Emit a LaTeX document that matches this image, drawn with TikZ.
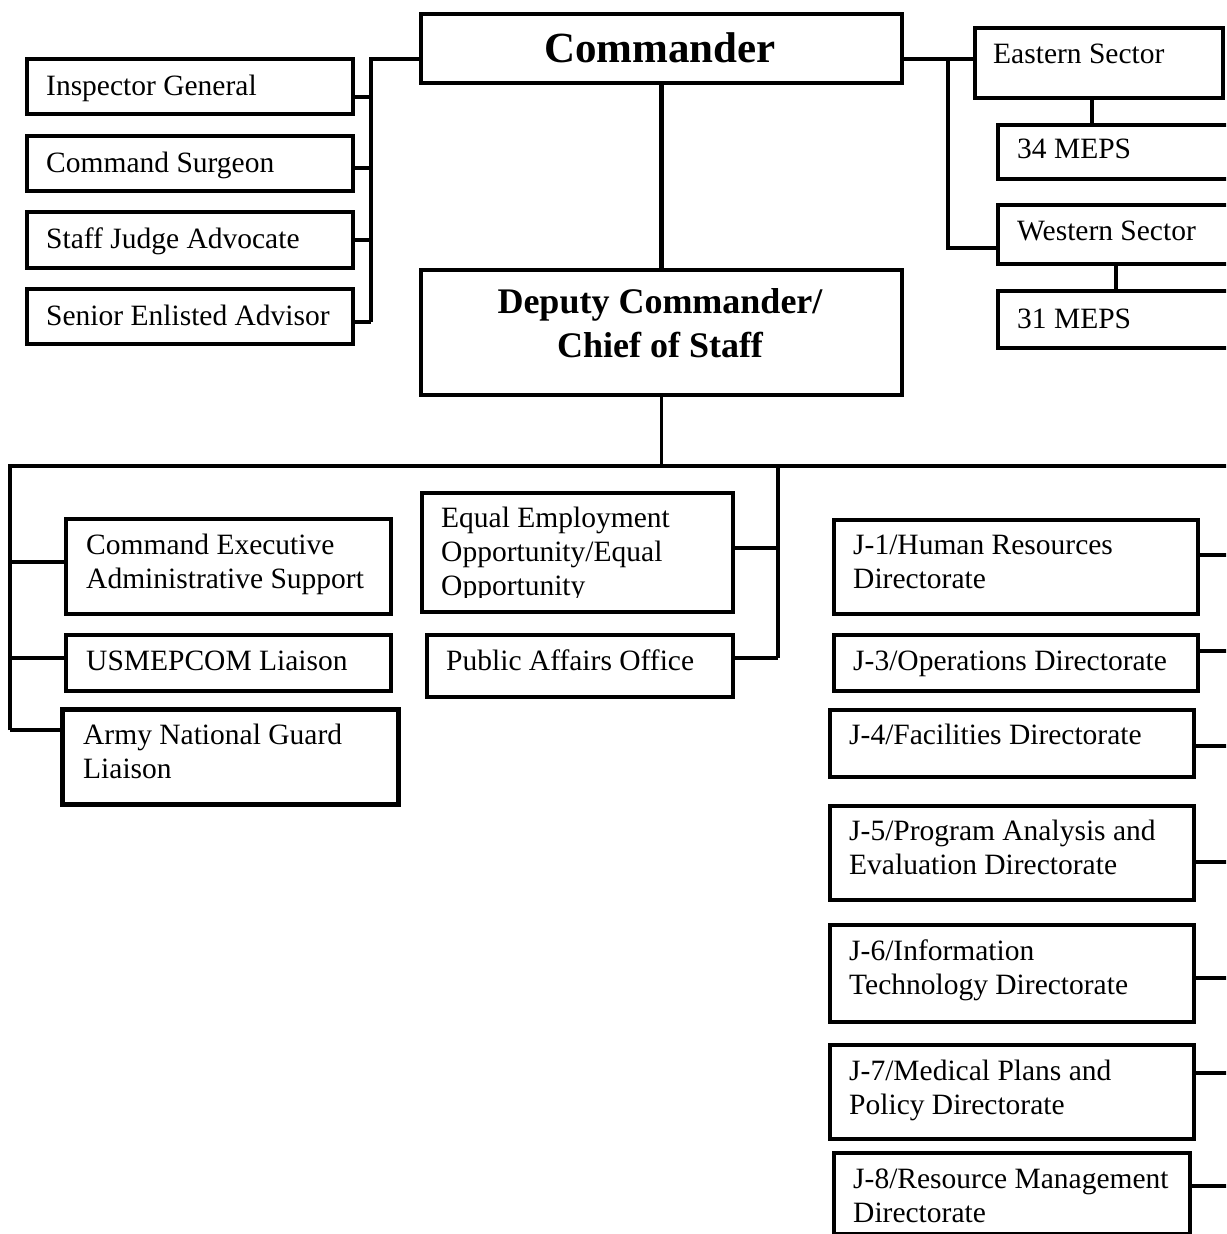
\documentclass[tikz,border=0pt]{standalone}
\usepackage{fontspec}
\setmainfont{Liberation Serif}
\begin{document}
\begin{tikzpicture}[x=1pt,y=-1pt,
  box/.style={draw, line width=3.6pt, inner sep=0pt, anchor=north west},
  thickbox/.style={box, line width=5pt},
  conn/.style={line width=3.6pt},
  mainconn/.style={line width=5pt},
  txt/.style={anchor=base west, inner sep=0pt, align=left, font=\fontsize{29.5}{34}\selectfont},
  bigtxt/.style={anchor=base, inner sep=0pt, align=center, font=\fontsize{43}{50}\selectfont\bfseries},
  midtxt/.style={anchor=base, inner sep=0pt, align=center, font=\fontsize{36}{44}\selectfont\bfseries}]
\useasboundingbox (0,0) rectangle (1226,1234);
\clip (0,0) rectangle (1226,1234);
% boxes
\node[box, minimum width=481, minimum height=69] (cmd) at (419,12) {};
\node[box, minimum width=481, minimum height=125] (dep) at (419,268) {};
\node[box, minimum width=326, minimum height=55] (ig) at (25,57) {};
\node[box, minimum width=326, minimum height=55] (cs) at (25,134) {};
\node[box, minimum width=326, minimum height=56] (sja) at (25,210) {};
\node[box, minimum width=326, minimum height=55] (sea) at (25,287) {};
\node[box, minimum width=248, minimum height=70] (es) at (973,26) {};
\node[box, minimum width=244, minimum height=54] (m34) at (996,123) {};
\node[box, minimum width=244, minimum height=59] (ws) at (996,203) {};
\node[box, minimum width=244, minimum height=57] (m31) at (996,289) {};
\node[box, minimum width=325, minimum height=95] (cea) at (64,517) {};
\node[box, minimum width=325, minimum height=56] (usm) at (64,633) {};
\node[thickbox, minimum width=336, minimum height=95] (ang) at (60,707) {};
\node[box, minimum width=311, minimum height=119] (eeo) at (420,491) {};
\node[box, minimum width=306, minimum height=62] (pao) at (425,633) {};
\node[box, minimum width=364, minimum height=94] (j1) at (832,518) {};
\node[box, minimum width=364, minimum height=56] (j3) at (832,633) {};
\node[box, minimum width=364, minimum height=67] (j4) at (828,708) {};
\node[box, minimum width=364, minimum height=94] (j5) at (828,804) {};
\node[box, minimum width=364, minimum height=97] (j6) at (828,923) {};
\node[box, minimum width=364, minimum height=94] (j7) at (828,1043) {};
\node[box, minimum width=356, minimum height=81] (j8) at (832,1151) {};
% texts (anchor = baseline of last line)
\node[bigtxt] (cmd-t) at (660,62) {Commander};
\node[midtxt] (dep-t) at (660,357) {Deputy Commander/\\Chief of Staff};
\node[txt] (ig-t) at (46,95) {Inspector General};
\node[txt] (cs-t) at (46,172) {Command Surgeon};
\node[txt] (sja-t) at (46,248) {Staff Judge Advocate};
\node[txt] (sea-t) at (46,325) {Senior Enlisted Advisor};
\node[txt] (es-t) at (993,63) {Eastern Sector};
\node[txt] (m34-t) at (1017,158) {34 MEPS};
\node[txt] (ws-t) at (1017,240) {Western Sector};
\node[txt] (m31-t) at (1017,328) {31 MEPS};
\node[txt] (cea-t) at (86,588) {Command Executive\\Administrative Support};
\node[txt] (usm-t) at (86,670) {USMEPCOM Liaison};
\node[txt] (ang-t) at (83,778) {Army National Guard\\Liaison};
\begin{scope}
\clip (420,491) rectangle (731,597);
\node[txt] (eeo-t) at (441,595) {Equal Employment\\Opportunity/Equal\\Opportunity};
\end{scope}
\node[txt] (pao-t) at (446,670) {Public Affairs Office};
\node[txt] (j1-t) at (853,588) {J-1/Human Resources\\Directorate};
\node[txt] (j3-t) at (853,670) {J-3/Operations Directorate};
\node[txt] (j4-t) at (849,744) {J-4/Facilities Directorate};
\node[txt] (j5-t) at (849,874) {J-5/Program Analysis and\\Evaluation Directorate};
\node[txt] (j6-t) at (849,994) {J-6/Information\\Technology Directorate};
\node[txt] (j7-t) at (849,1114) {J-7/Medical Plans and\\Policy Directorate};
\node[txt] (j8-t) at (853,1222) {J-8/Resource Management\\Directorate};
% coordinates
\coordinate (lt) at (371,59);
\coordinate (l1) at (371,97);
\coordinate (l2) at (371,168);
\coordinate (l3) at (371,240);
\coordinate (l4) at (371,322);
\coordinate (rt) at (948,59);
\coordinate (rb) at (948,248);
\coordinate (e34) at (1092,110);
\coordinate (w31) at (1116,275);
\coordinate (busL) at (10,466);
\coordinate (busR) at (1232,466);
\coordinate (b1) at (10,562);
\coordinate (b2) at (10,658);
\coordinate (b3) at (10,730);
\coordinate (mT) at (778,466);
\coordinate (m1) at (778,548);
\coordinate (m2) at (778,658);
\coordinate (r1) at (1232,555);
\coordinate (r3) at (1232,651);
\coordinate (r4) at (1232,746);
\coordinate (r5) at (1232,862);
\coordinate (r6) at (1232,978);
\coordinate (r7) at (1232,1073);
\coordinate (r8) at (1232,1186);
% connectors
\draw[conn] (cmd.west |- lt) -- (lt) -- (l4);
\draw[conn] (ig.east |- l1) -- (l1);
\draw[conn] (cs.east |- l2) -- (l2);
\draw[conn] (sja.east |- l3) -- (l3);
\draw[conn] (sea.east |- l4) -- (l4);
\draw[conn] (cmd.east |- rt) -- (es.west |- rt);
\draw[conn] (rt) -- (rb) -- (ws.west |- rb);
\draw[conn] (e34 |- es.south) -- (e34 |- m34.north);
\draw[conn] (w31 |- ws.south) -- (w31 |- m31.north);
\draw[mainconn] (cmd.south) -- (dep.north);
\draw[conn] (dep.south) -- (dep.south |- busL);
\draw[conn] (b3) -- (busL) -- (busR) -- (r8);
\draw[conn] (b1) -- (cea.west |- b1);
\draw[conn] (b2) -- (usm.west |- b2);
\draw[conn] (b3) -- (ang.west |- b3);
\draw[conn] (mT) -- (m2);
\draw[conn] (eeo.east |- m1) -- (m1);
\draw[conn] (pao.east |- m2) -- (m2);
\draw[conn] (j1.east |- r1) -- (r1);
\draw[conn] (j3.east |- r3) -- (r3);
\draw[conn] (j4.east |- r4) -- (r4);
\draw[conn] (j5.east |- r5) -- (r5);
\draw[conn] (j6.east |- r6) -- (r6);
\draw[conn] (j7.east |- r7) -- (r7);
\draw[conn] (j8.east |- r8) -- (r8);
\end{tikzpicture}
\end{document}
